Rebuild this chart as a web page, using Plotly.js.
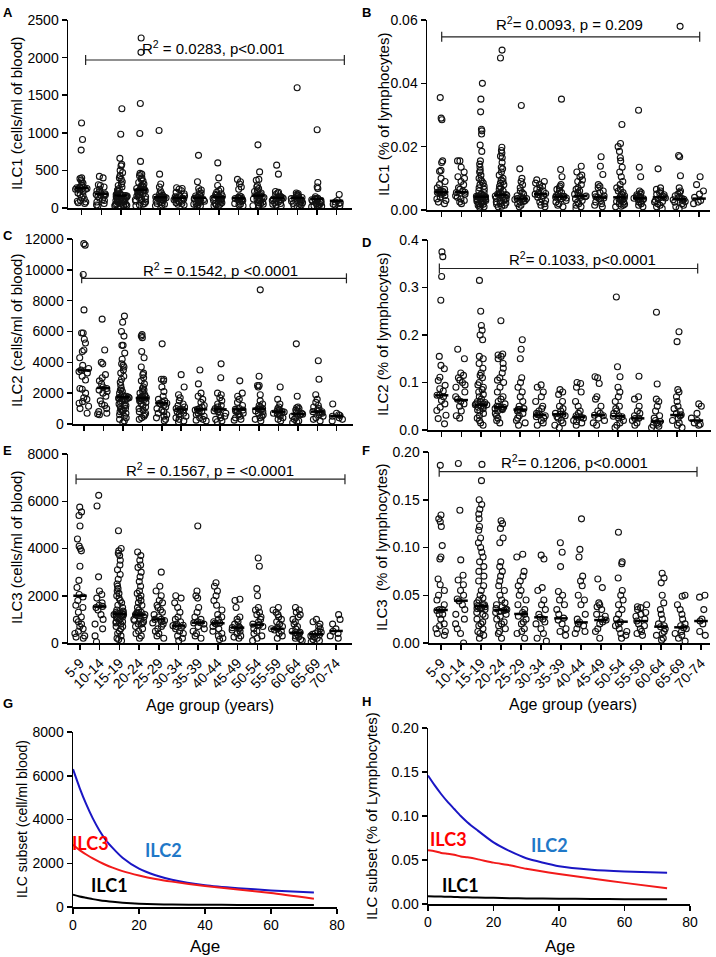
<!DOCTYPE html>
<html><head><meta charset="utf-8">
<script src="https://cdn.plot.ly/plotly-3.0.1.min.js"></script>
<style>html,body{margin:0;padding:0;background:#fff}#chart{width:716px;height:957px}</style>
</head><body><div id="chart"></div>
<script>
const ageGroups = ["5-9","10-14","15-19","20-24","25-29","30-34","35-39","40-44","45-49","50-54","55-59","60-64","65-69","70-74"];

// A: ILC1 cells/ml
const ilc1Cells = [
 [1130,910,770,400,390,370,350,330,300,280,270,260,255,250,240,220,200,180,160,140,120,100,90,80,70,60,250,265],
 [420,400,310,300,280,250,230,210,200,190,180,175,170,160,150,130,110,100,80,60,40,30],
 [1320,980,660,580,560,500,470,430,400,380,350,320,300,280,260,240,230,220,200,190,180,175,170,165,160,160,155,150,145,140,130,120,115,110,100,95,90,85,80,70,65,60,55,50,45,40,35,30,25,20],
 [2260,2070,1390,990,620,460,450,430,400,380,360,340,320,300,290,280,270,260,250,245,240,235,230,220,210,200,190,180,170,160,150,140,130,120,110,100,90,80,60,50,40,30],
 [1030,450,320,280,230,200,190,170,160,150,145,140,135,130,120,110,100,90,80,70,60,50,40,30,140,145],
 [270,260,250,230,210,190,170,160,150,140,135,130,125,120,110,100,90,80,70,60,50,40],
 [700,350,260,240,220,200,180,160,150,140,135,130,125,120,110,100,90,80,70,60,50,40,30,25],
 [600,400,300,250,230,210,190,180,170,160,150,145,140,135,130,120,110,100,90,80,70,60,50,40,30,20],
 [380,350,320,280,250,160,150,140,135,130,125,120,110,100,90,80,60,50,40,30],
 [840,480,380,370,300,280,260,240,220,200,190,180,170,165,160,155,150,140,130,120,110,100,90,80,70,60,50,40,30,20],
 [570,450,220,210,200,180,160,150,140,135,130,125,120,110,100,90,80,70,60,50,40,30],
 [1600,200,190,180,170,160,150,140,135,130,125,120,110,100,90,80,70,60,50,40,30,20],
 [1040,340,280,260,150,130,125,120,115,110,100,90,80,70,60,50,40,30,25,20,15,10],
 [180,100,80,70,60,50,40,30]
];
const ilc1CellsMedian = [265,187,165,243,143,135,135,143,130,165,135,135,122,95];

// B: ILC1 % lymphocytes
const ilc1Pct = [
 [0.0355,0.029,0.0285,0.0155,0.015,0.0125,0.0122,0.010,0.009,0.008,0.007,0.0065,0.006,0.0058,0.0056,0.0055,0.0054,0.005,0.0045,0.004,0.0035,0.003,0.0025,0.002],
 [0.0155,0.0155,0.0135,0.012,0.0105,0.010,0.009,0.008,0.007,0.0065,0.006,0.0056,0.0055,0.005,0.0045,0.004,0.0035,0.003,0.0025,0.002],
 [0.040,0.035,0.031,0.0255,0.025,0.024,0.0205,0.0185,0.0155,0.0145,0.0135,0.0125,0.012,0.011,0.010,0.0095,0.009,0.0085,0.008,0.0075,0.007,0.0065,0.006,0.0055,0.005,0.0048,0.0045,0.0043,0.0042,0.0041,0.004,0.0038,0.0036,0.0034,0.0032,0.003,0.0028,0.0025,0.0022,0.002,0.0018,0.0015,0.0012,0.001,0.0008,0.0042,0.0044,0.004,0.0035,0.003],
 [0.0505,0.048,0.0198,0.0188,0.018,0.017,0.0165,0.015,0.0135,0.013,0.012,0.011,0.010,0.0095,0.009,0.0085,0.008,0.0075,0.007,0.0065,0.006,0.0055,0.005,0.0049,0.0048,0.0046,0.0044,0.004,0.0037,0.0035,0.0032,0.003,0.0027,0.0025,0.0022,0.002,0.0018,0.0015,0.0012,0.001,0.0048,0.005],
 [0.033,0.013,0.010,0.009,0.008,0.007,0.006,0.0055,0.005,0.0045,0.004,0.0037,0.0036,0.0035,0.0033,0.003,0.0027,0.0025,0.002,0.0015,0.001,0.0036],
 [0.0095,0.009,0.0085,0.008,0.0075,0.007,0.0065,0.006,0.0055,0.0052,0.005,0.0048,0.0045,0.004,0.0035,0.003,0.0025,0.002,0.0015,0.001],
 [0.035,0.0128,0.0105,0.008,0.0075,0.007,0.0065,0.006,0.0055,0.005,0.0045,0.0043,0.0042,0.004,0.0038,0.0035,0.003,0.0025,0.002,0.0015,0.001,0.0042],
 [0.0138,0.012,0.011,0.0105,0.0095,0.009,0.008,0.007,0.0065,0.006,0.0055,0.005,0.0046,0.0044,0.0042,0.004,0.0035,0.003,0.0025,0.002,0.0015,0.001,0.0005,0.0044],
 [0.0168,0.0138,0.0112,0.008,0.0075,0.007,0.006,0.0055,0.005,0.0045,0.0042,0.004,0.0038,0.0035,0.003,0.0025,0.002,0.0015,0.001],
 [0.027,0.021,0.020,0.0185,0.0165,0.0155,0.0135,0.012,0.0105,0.009,0.008,0.007,0.0065,0.006,0.0055,0.005,0.0045,0.0042,0.004,0.0038,0.0035,0.0032,0.003,0.0027,0.0025,0.002,0.0018,0.0015,0.0012,0.001],
 [0.0315,0.0135,0.0105,0.006,0.0055,0.005,0.0048,0.0045,0.0042,0.004,0.0038,0.0037,0.0035,0.0033,0.003,0.0027,0.0025,0.002,0.0015,0.001],
 [0.013,0.007,0.0065,0.006,0.0055,0.005,0.0048,0.0045,0.0042,0.004,0.0038,0.0035,0.003,0.0027,0.0025,0.002,0.0015,0.001,0.0005],
 [0.058,0.0172,0.0168,0.0108,0.007,0.006,0.0055,0.005,0.0045,0.004,0.0036,0.0034,0.0032,0.003,0.0027,0.0025,0.002,0.0015,0.001,0.0005],
 [0.0105,0.008,0.006,0.005,0.004,0.003,0.0025,0.002]
];
const ilc1PctMedian = [0.0056,0.0056,0.0042,0.0048,0.0036,0.005,0.0042,0.0044,0.004,0.004,0.0037,0.004,0.0034,0.0036];

// C: ILC2 cells/ml
const ilc2Cells = [
 [11700,11600,9700,7400,5900,5900,5500,5250,4800,4700,4300,3800,3600,3400,3100,2850,2300,2250,2000,1700,1600,1450,1350,1150,1000,700,3500,3300],
 [6800,4800,4000,3900,3200,3000,2800,2600,2400,2300,2200,2100,2000,1800,1500,1300,1200,1000,800,700,650,600],
 [7000,6600,6000,5700,5100,5100,4600,4200,3900,3800,3700,3500,3300,3100,2900,2700,2500,2300,2200,2100,2000,1900,1800,1750,1700,1650,1600,1500,1400,1300,1200,1100,1000,950,900,850,800,700,600,500,400,300,200,100,1750,1800,1700,1650,1500,1200],
 [5800,5700,5600,4700,4300,3700,3300,3200,3000,2800,2600,2400,2300,2200,2100,2000,1900,1800,1700,1650,1600,1500,1400,1300,1200,1100,1000,900,800,700,600,500,400,300,1700,1650,1600,1750,1800,1500],
 [5200,2900,2900,2800,2400,2100,1800,1600,1500,1400,1350,1300,1200,1100,1000,900,800,700,600,500,400,300,200,1350],
 [3200,2400,1900,1700,1500,1300,1200,1100,1000,950,900,850,800,700,600,500,400,300,200,150],
 [3500,2600,2000,1800,1600,1400,1200,1100,1000,950,900,850,800,700,600,500,400,300,250,200],
 [3900,3000,2000,1900,1700,1500,1300,1200,1100,1000,950,900,850,800,700,600,500,400,300,200,150],
 [2800,2000,1800,1600,1400,1200,1000,950,900,850,800,700,600,500,400,300,250],
 [8700,3100,2500,2500,2400,1900,1500,1300,1200,1100,1000,990,950,900,850,800,700,600,500,400,300,200],
 [2400,1600,1300,1100,1000,900,850,800,780,750,700,650,600,500,400,300,200],
 [5200,1800,1100,1050,1000,900,800,700,650,640,600,500,400,300,200,150,100],
 [4100,2900,1900,1600,1400,1200,1100,1000,900,800,790,750,700,600,500,400,300,200],
 [1300,700,600,550,500,400,300,200]
];
const ilc2CellsMedian = [3480,2340,1740,1680,1350,950,950,950,950,990,800,650,800,520];

// D: ILC2 % lymphocytes
const ilc2Pct = [
 [0.375,0.365,0.323,0.273,0.155,0.136,0.129,0.111,0.104,0.094,0.087,0.082,0.073,0.062,0.055,0.048,0.041,0.031,0.024,0.013,0.073,0.07],
 [0.17,0.15,0.12,0.115,0.11,0.105,0.10,0.095,0.09,0.08,0.07,0.065,0.06,0.055,0.05,0.04,0.03,0.025],
 [0.315,0.25,0.22,0.21,0.2,0.19,0.155,0.15,0.14,0.13,0.12,0.115,0.11,0.10,0.095,0.09,0.085,0.08,0.075,0.07,0.065,0.06,0.058,0.055,0.053,0.05,0.048,0.045,0.042,0.04,0.035,0.03,0.025,0.02,0.015,0.01,0.053,0.055,0.06,0.05],
 [0.23,0.16,0.158,0.155,0.15,0.14,0.13,0.12,0.11,0.105,0.10,0.09,0.08,0.07,0.065,0.06,0.055,0.05,0.048,0.045,0.043,0.04,0.035,0.03,0.025,0.02,0.015,0.048,0.05,0.045],
 [0.19,0.17,0.15,0.11,0.1,0.09,0.08,0.07,0.06,0.05,0.045,0.043,0.04,0.035,0.03,0.025,0.02,0.015,0.01,0.043],
 [0.095,0.09,0.08,0.07,0.06,0.05,0.045,0.04,0.035,0.032,0.03,0.028,0.025,0.02,0.015,0.01,0.032],
 [0.085,0.08,0.075,0.06,0.05,0.045,0.04,0.035,0.033,0.03,0.028,0.025,0.02,0.015,0.01,0.005,0.033],
 [0.10,0.098,0.09,0.08,0.06,0.05,0.04,0.035,0.03,0.027,0.025,0.02,0.018,0.015,0.01,0.027],
 [0.112,0.11,0.098,0.07,0.065,0.05,0.04,0.035,0.031,0.03,0.025,0.02,0.015,0.01],
 [0.28,0.133,0.112,0.09,0.08,0.07,0.06,0.05,0.045,0.04,0.035,0.03,0.028,0.025,0.02,0.015,0.01,0.005,0.029],
 [0.113,0.07,0.065,0.05,0.04,0.035,0.03,0.025,0.024,0.02,0.015,0.01],
 [0.248,0.097,0.065,0.06,0.05,0.04,0.03,0.025,0.02,0.018,0.015,0.012,0.01,0.008,0.005],
 [0.207,0.186,0.085,0.08,0.07,0.06,0.05,0.045,0.04,0.035,0.032,0.03,0.025,0.02,0.015,0.01,0.005],
 [0.055,0.05,0.035,0.025,0.02,0.015,0.012,0.01]
];
const ilc2PctMedian = [0.073,0.063,0.053,0.048,0.043,0.0315,0.033,0.027,0.031,0.029,0.0245,0.018,0.0315,0.020];

// E: ILC3 cells/ml
const ilc3Cells = [
 [5750,5550,5400,4950,4400,4100,4000,3900,3250,2650,2350,2050,1950,1800,1600,1500,1300,1100,1000,900,800,700,600,500,400,300,250,200],
 [6250,5800,2800,2200,2050,1900,1700,1600,1550,1500,1400,1200,1000,800,600,300,50],
 [4750,4000,3900,3800,3700,3500,3300,3100,2900,2700,2500,2400,2300,2200,2100,2000,1900,1800,1700,1600,1500,1400,1350,1300,1250,1230,1200,1150,1100,1050,1000,950,900,850,800,700,600,500,400,300,200,150,100,1200,1250,1300,1230,1100,900,700],
 [3850,3700,3500,3300,3200,3000,2800,2600,2400,2200,2100,2000,1900,1800,1700,1600,1500,1400,1300,1250,1200,1150,1100,1000,950,900,850,800,700,600,500,400,300,200,1200,1250,1150,1300,1000,800],
 [3000,2400,2200,2000,1800,1700,1600,1500,1400,1300,1200,1100,1000,1000,950,900,850,800,700,600,500,400,300,200],
 [2000,1900,1700,1500,1300,1100,1000,900,800,750,735,700,650,600,500,400,300,200,100],
 [4950,2200,2000,1900,1500,1300,1100,1000,900,860,850,800,700,600,500,400,300,200],
 [2550,2400,2200,2000,1800,1600,1400,1200,1100,1000,900,850,835,800,700,600,500,400,300,200,150],
 [1850,1800,1500,1100,1000,900,800,700,650,640,600,550,500,400,300,250,200],
 [3600,3250,2300,2000,1500,1400,1300,1200,1100,1000,900,800,775,750,700,600,500,400,300,200,100],
 [1500,1400,1300,1200,1100,1000,900,800,700,650,605,600,550,500,400,300,200],
 [1500,1400,1300,1200,1100,1000,900,800,700,600,500,450,435,400,350,300,250,200,150,100],
 [1000,900,800,700,600,500,450,400,370,350,300,250,200,150,100,50],
 [1200,1000,800,600,500,400,300,200]
];
const ilc3CellsMedian = [2000,1540,1230,1200,1000,735,860,835,650,775,605,435,370,510];

// F: ILC3 % lymphocytes
const ilc3Pct = [
 [0.186,0.134,0.130,0.127,0.122,0.102,0.090,0.088,0.067,0.061,0.055,0.050,0.045,0.040,0.035,0.034,0.030,0.025,0.020,0.018,0.015,0.012,0.010,0.008,0.030,0.035],
 [0.188,0.139,0.087,0.071,0.066,0.061,0.055,0.050,0.046,0.044,0.040,0.035,0.030,0.025,0.020,0.015,0.010,0.0],
 [0.187,0.170,0.150,0.145,0.140,0.135,0.130,0.122,0.118,0.110,0.105,0.100,0.095,0.090,0.085,0.080,0.075,0.070,0.065,0.060,0.055,0.050,0.047,0.045,0.042,0.040,0.039,0.038,0.036,0.035,0.032,0.030,0.028,0.025,0.022,0.020,0.018,0.015,0.012,0.010,0.008,0.005,0.038,0.040,0.037,0.036],
 [0.128,0.125,0.120,0.110,0.105,0.085,0.080,0.075,0.070,0.065,0.060,0.055,0.050,0.045,0.042,0.040,0.038,0.035,0.034,0.032,0.030,0.028,0.025,0.022,0.020,0.018,0.015,0.012,0.010,0.005,0.035,0.033,0.036],
 [0.093,0.090,0.075,0.070,0.065,0.060,0.055,0.050,0.045,0.040,0.035,0.032,0.030,0.028,0.025,0.022,0.020,0.015,0.012,0.010,0.005],
 [0.092,0.088,0.058,0.055,0.045,0.040,0.035,0.030,0.027,0.025,0.022,0.020,0.015,0.010,0.005,0.002],
 [0.105,0.095,0.080,0.054,0.050,0.045,0.040,0.035,0.030,0.026,0.024,0.020,0.015,0.012,0.008],
 [0.130,0.098,0.090,0.070,0.065,0.060,0.050,0.045,0.040,0.030,0.025,0.022,0.020,0.018,0.015,0.012,0.010],
 [0.067,0.058,0.042,0.040,0.038,0.035,0.030,0.028,0.025,0.024,0.022,0.020,0.015,0.012,0.005],
 [0.116,0.085,0.083,0.068,0.055,0.050,0.045,0.040,0.035,0.030,0.025,0.022,0.020,0.018,0.015,0.012,0.010,0.008,0.005],
 [0.040,0.038,0.037,0.035,0.032,0.030,0.028,0.025,0.023,0.020,0.018,0.015,0.012,0.010,0.008],
 [0.073,0.068,0.063,0.050,0.042,0.035,0.030,0.025,0.020,0.018,0.017,0.015,0.012,0.010,0.008,0.005,0.003],
 [0.050,0.049,0.040,0.035,0.030,0.025,0.020,0.018,0.016,0.015,0.012,0.010,0.008,0.005,0.002],
 [0.048,0.050,0.035,0.025,0.023,0.020,0.012,0.008]
];
const ilc3PctMedian = [0.0346,0.0443,0.0387,0.0346,0.0304,0.0269,0.0258,0.0216,0.024,0.0223,0.023,0.0171,0.0164,0.023];

// G/H fitted curves
const fitAge = [0,2,4,6,8,10,12,15,20,25,30,40,50,60,73];
const fitIlc2Cells = [6300,5450,4700,4050,3500,3050,2700,2250,1750,1450,1250,1000,860,760,660];
const fitIlc3Cells = [2850,2600,2400,2220,2060,1920,1800,1640,1440,1280,1160,960,800,640,380];
const fitIlc1Cells = [560,480,420,360,310,270,235,195,150,125,110,100,95,92,90];
const fitIlc2Pct = [0.146,0.135,0.125,0.116,0.108,0.100,0.093,0.084,0.070,0.060,0.052,0.043,0.039,0.037,0.0355];
const fitIlc3Pct = [0.061,0.060,0.058,0.057,0.056,0.054,0.053,0.051,0.047,0.044,0.040,0.034,0.029,0.024,0.018];
const fitIlc1Pct = [0.0088,0.0086,0.0084,0.0082,0.008,0.0078,0.0076,0.0074,0.007,0.0066,0.0063,0.006,0.0057,0.0055,0.0053];

const W = 716, H = 957;
const FONT = "Liberation Sans, Arial, sans-serif";
const px = v => v / W;
const py = v => 1 - v / H;

const traces = [];
const shapes = [];
const annotations = [];

function dotPanel(groups, medians, n) {
  const xs = [], ys = [];
  groups.forEach((g, i) => g.forEach(v => { xs.push(i); ys.push(v); }));
  const sfx = n === 1 ? '' : String(n);
  traces.push({
    type: 'box', x: xs, y: ys, xaxis: 'x' + sfx, yaxis: 'y' + sfx,
    boxpoints: 'all', jitter: 0.8, pointpos: 0, width: 0.8,
    line: {width: 0, color: 'rgba(0,0,0,0)'}, fillcolor: 'rgba(0,0,0,0)',
    marker: {symbol: 'circle-open', size: 6, color: '#111', line: {width: 1.1}},
    hoverinfo: 'skip', showlegend: false
  });
  const mx = [], my = [];
  medians.forEach((m, i) => { mx.push(i - 0.34, i + 0.34, null); my.push(m, m, null); });
  traces.push({
    type: 'scatter', mode: 'lines', x: mx, y: my, xaxis: 'x' + sfx, yaxis: 'y' + sfx,
    line: {color: '#000', width: 2.5}, hoverinfo: 'skip', showlegend: false, cliponaxis: false
  });
}

function bracket(n, x0, x1, yv, text, tx, ty) {
  const sfx = n === 1 ? '' : String(n);
  const xr = 'x' + sfx, yr = 'y' + sfx;
  shapes.push({type: 'line', xref: xr, yref: yr, x0: x0, x1: x1, y0: yv, y1: yv, line: {color: '#222', width: 1.2}});
  [x0, x1].forEach(xx => shapes.push({type: 'line', xref: xr, yref: yr, x0: xx, x1: xx,
    ysizemode: 'pixel', yanchor: yv, y0: -5, y1: 5, line: {color: '#222', width: 1.2}}));
  annotations.push({xref: xr, yref: yr, x: tx, y: ty, text: text, showarrow: false,
    font: {family: FONT, size: 15, color: '#000'}, xanchor: 'center', yanchor: 'middle'});
}

dotPanel(ilc1Cells, ilc1CellsMedian, 1);
dotPanel(ilc1Pct, ilc1PctMedian, 2);
dotPanel(ilc2Cells, ilc2CellsMedian, 3);
dotPanel(ilc2Pct, ilc2PctMedian, 4);
dotPanel(ilc3Cells, ilc3CellsMedian, 5);
dotPanel(ilc3Pct, ilc3PctMedian, 6);

bracket(1, 0.2, 13.4, 1968, 'R<sup>2</sup> = 0.0283, p<0.001', 6.7, 2140);
bracket(2, 0.0, 13.03, 0.0547, 'R<sup>2</sup>= 0.0093, p = 0.209', 6.43, 0.0588);
bracket(3, -0.12, 13.5, 9450, 'R<sup>2</sup> = 0.1542, p <0.0001', 7.0, 9990);
bracket(4, -0.12, 13.06, 0.340, 'R<sup>2</sup>= 0.1033, p<0.0001', 7.2, 0.361);
bracket(5, -0.2, 13.45, 6935, 'R<sup>2</sup> = 0.1567, p = <0.0001', 6.6, 7330);
bracket(6, -0.09, 12.8, 0.1794, 'R<sup>2</sup>= 0.1206, p<0.0001', 6.67, 0.190);

function curve(xa, ya, y, color) {
  traces.push({type: 'scatter', mode: 'lines', x: fitAge, y: y, xaxis: xa, yaxis: ya,
    line: {color: color, width: 2, shape: 'spline', smoothing: 0.6}, hoverinfo: 'skip', showlegend: false});
}
const BLUE = '#1a16c4', RED = '#f21a1a';
curve('x7', 'y7', fitIlc2Cells, BLUE);
curve('x7', 'y7', fitIlc3Cells, RED);
curve('x7', 'y7', fitIlc1Cells, '#000');
curve('x8', 'y8', fitIlc2Pct, BLUE);
curve('x8', 'y8', fitIlc3Pct, RED);
curve('x8', 'y8', fitIlc1Pct, '#000');

function clabel(xr, yr, x, y, t, c) {
  annotations.push({xref: xr, yref: yr, x: x, y: y, text: '<b>' + t + '</b>', showarrow: false,
    font: {family: 'Lato, Open Sans, sans-serif', size: 18, color: c}, xanchor: 'center', yanchor: 'middle'});
}
clabel('x7', 'y7', 5.2, 2925, 'ILC3', '#ff0000');
clabel('x7', 'y7', 27.3, 2600, 'ILC2', '#1f78c8');
clabel('x7', 'y7', 11.2, 1000, 'ILC1', '#000');
clabel('x8', 'y8', 6.4, 0.074, 'ILC3', '#ff0000');
clabel('x8', 'y8', 37, 0.067, 'ILC2', '#1f78c8');
clabel('x8', 'y8', 9.8, 0.0216, 'ILC1', '#000');

function ytitle(xpx, ypx, t, size) {
  annotations.push({xref: 'paper', yref: 'paper', x: px(xpx), y: py(ypx), text: t, textangle: -90,
    showarrow: false, xanchor: 'center', yanchor: 'middle', font: {family: FONT, size: size, color: '#000'}});
}
ytitle(17, 114, 'ILC1 (cells/ml of blood)', 15);
ytitle(383, 115, 'ILC1 (% of lymphocytes)', 15);
ytitle(16, 331, 'ILC2 (cells/ml of blood)', 15);
ytitle(382, 335, 'ILC2 (% of lymphocytes)', 15);
ytitle(16, 548, 'ILC3 (cells/ml of blood)', 15);
ytitle(381, 547, 'ILC3  (% of lymphocytes)', 15);
ytitle(22, 819, 'ILC subset (cell/ml blood)', 14);
ytitle(371, 816, 'ILC subset (% of Lymphocytes)', 15);

function xtitle(xpx, ypx, t, size) {
  annotations.push({xref: 'paper', yref: 'paper', x: px(xpx), y: py(ypx), text: t,
    showarrow: false, xanchor: 'center', yanchor: 'middle', font: {family: FONT, size: size, color: '#000'}});
}
xtitle(210, 705, 'Age group (years)', 16);
xtitle(573, 704, 'Age group (years)', 16);
xtitle(205, 946, 'Age', 17);
xtitle(560, 946, 'Age', 17);

function letter(xpx, ypx, t) {
  annotations.push({xref: 'paper', yref: 'paper', x: px(xpx), y: py(ypx), text: '<b>' + t + '</b>',
    showarrow: false, xanchor: 'left', yanchor: 'top', font: {family: FONT, size: 13, color: '#000'}});
}
letter(1, 3, 'A'); letter(360, 3, 'B');
letter(1, 226, 'C'); letter(360, 233, 'D');
letter(1, 441, 'E'); letter(360, 441, 'F');
letter(1, 694, 'G'); letter(360, 692, 'H');

const tickFont = {family: FONT, size: 14, color: '#000'};
function catX(l, r, c0, sp, showLabels, anchor) {
  return {domain: [px(l), px(r)], range: [(l - c0) / sp, (r - c0) / sp], anchor: anchor,
    tickvals: ageGroups.map((_, i) => i), ticktext: ageGroups, showticklabels: showLabels,
    tickangle: -45, ticks: 'outside', ticklen: 5, tickwidth: 1.5, tickcolor: '#000',
    showline: true, linecolor: '#000', linewidth: 1.5, showgrid: false, zeroline: false,
    tickfont: tickFont, fixedrange: true};
}
function valY(top, bot, range, dtick, fmt, anchor) {
  return {domain: [py(bot), py(top)], range: range, anchor: anchor, dtick: dtick, tick0: 0,
    tickformat: fmt, ticks: 'outside', ticklen: 5, tickwidth: 1.5, tickcolor: '#000',
    showline: true, linecolor: '#000', linewidth: 1.5, showgrid: false, zeroline: false,
    tickfont: tickFont, fixedrange: true};
}
function numX(l, r, anchor) {
  return {domain: [px(l), px(r)], range: [0, 80], anchor: anchor, dtick: 20, tick0: 0,
    ticks: 'outside', ticklen: 5, tickwidth: 1.5, tickcolor: '#000',
    showline: true, linecolor: '#000', linewidth: 1.5, showgrid: false, zeroline: false,
    tickfont: tickFont, fixedrange: true};
}

const layout = {
  width: W, height: H, margin: {l: 0, r: 0, t: 0, b: 0},
  paper_bgcolor: '#fff', plot_bgcolor: 'rgba(0,0,0,0)', showlegend: false,
  font: {family: FONT, color: '#000'},
  boxmode: 'overlay',
  xaxis:  catX(68, 352, 81.7, 19.6, false, 'y'),
  yaxis:  valY(20, 208, [0, 2500], 500, 'd', 'x'),
  xaxis2: catX(427, 710, 441.7, 19.8, false, 'y2'),
  yaxis2: valY(20, 210, [0, 0.06], 0.02, '.2f', 'x2'),
  xaxis3: catX(73, 353, 84, 19.44, false, 'y3'),
  yaxis3: valY(239, 424, [0, 12000], 2000, 'd', 'x3'),
  xaxis4: catX(428, 711, 441.7, 19.6, false, 'y4'),
  yaxis4: valY(240, 430, [0, 0.4], 0.1, '.1f', 'x4'),
  xaxis5: catX(68, 352, 80, 19.7, true, 'y5'),
  yaxis5: valY(454, 643, [0, 8000], 2000, 'd', 'x5'),
  xaxis6: catX(429, 710, 441, 20, true, 'y6'),
  yaxis6: valY(452, 643, [0, 0.2], 0.05, '.2f', 'x6'),
  xaxis7: numX(73, 337, 'y7'),
  yaxis7: valY(732, 907, [0, 8000], 2000, 'd', 'x7'),
  xaxis8: numX(428, 690, 'y8'),
  yaxis8: valY(728, 904, [0, 0.2], 0.05, '.2f', 'x8'),
  shapes: shapes, annotations: annotations
};

Plotly.newPlot('chart', traces, layout, {staticPlot: true, displayModeBar: false});
</script></body></html>
